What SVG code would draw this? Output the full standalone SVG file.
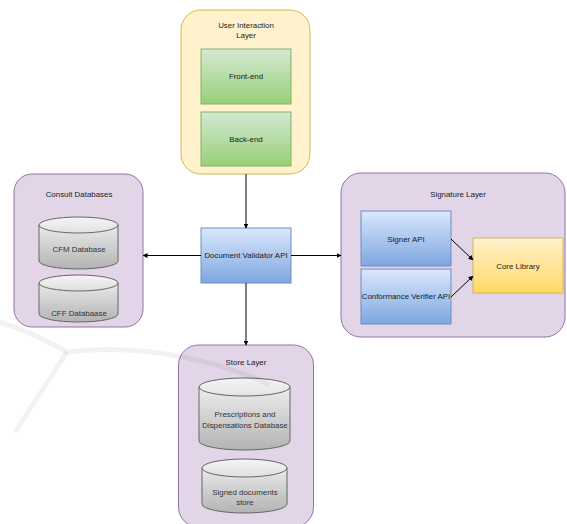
<svg xmlns="http://www.w3.org/2000/svg" width="567" height="524" viewBox="0 0 567 524">
<defs>
<linearGradient id="gGreen" x1="0" y1="0" x2="0" y2="1"><stop offset="0" stop-color="#d5e8d4"/><stop offset="1" stop-color="#97d077"/></linearGradient>
<linearGradient id="gBlue" x1="0" y1="0" x2="0" y2="1"><stop offset="0" stop-color="#dae8fc"/><stop offset="1" stop-color="#7ea6e0"/></linearGradient>
<linearGradient id="gYellow" x1="0" y1="0" x2="0" y2="1"><stop offset="0" stop-color="#fff2cc"/><stop offset="1" stop-color="#ffd966"/></linearGradient>
<linearGradient id="gGray" x1="0" y1="0" x2="0" y2="1"><stop offset="0" stop-color="#f5f5f5"/><stop offset="1" stop-color="#b3b3b3"/></linearGradient>
<marker id="arr" viewBox="0 0 10 10" refX="9" refY="5" markerWidth="5" markerHeight="5" markerUnits="userSpaceOnUse" orient="auto"><path d="M0,0 L10,5 L0,10 Z" fill="#000"/></marker>
</defs>
<style>
text{font-family:"Liberation Sans",Arial,sans-serif;font-size:7.9px;fill:#1a1a1a;text-anchor:middle;dominant-baseline:central}
.layerP{fill:#e1d5e7;stroke:#9673a6;stroke-width:1}
.layerY{fill:#fff2cc;stroke:#d6b656;stroke-width:1}
.green{fill:url(#gGreen);stroke:#82b366;stroke-width:1}
.blue{fill:url(#gBlue);stroke:#6c8ebf;stroke-width:1}
.yellow{fill:url(#gYellow);stroke:#d6b656;stroke-width:1}
.cyl{fill:url(#gGray);stroke:#666;stroke-width:1}
.cylTop{fill:none;stroke:#666;stroke-width:1}
.dbt{fill:#333}
.edge{fill:none;stroke:#000;stroke-width:1;marker-end:url(#arr)}
.wmline{fill:none;stroke:#000;stroke-opacity:0.05;stroke-width:5}
</style>
<rect width="567" height="524" fill="#fff"/>

<g id="user-interaction-layer">
<rect class="layerY" x="181" y="10" width="129" height="164" rx="20"/>
<text x="246" y="25">User Interaction</text>
<text x="246" y="35">Layer</text>
</g>
<g id="front-end">
<rect class="green" x="201" y="49" width="90" height="55"/>
<text x="246" y="76.5">Front-end</text>
</g>
<g id="back-end">
<rect class="green" x="201" y="112" width="90" height="54"/>
<text x="246" y="139">Back-end</text>
</g>

<g id="consult-databases">
<rect class="layerP" x="14" y="174" width="129" height="153" rx="18"/>
<text x="79" y="194">Consult Databases</text>
</g>
<g id="cfm-database">
<path class="cyl" d="M39,225 A39.5,8 0 0 1 118,225 L118,261 A39.5,8 0 0 1 39,261 Z"/>
<path class="cylTop" d="M39,225 A39.5,8 0 0 0 118,225"/>
<text class="dbt" x="79" y="249">CFM Database</text>
</g>
<g id="cff-database">
<path class="cyl" d="M39,283 A39.5,8 0 0 1 118,283 L118,314 A39.5,8 0 0 1 39,314 Z"/>
<path class="cylTop" d="M39,283 A39.5,8 0 0 0 118,283"/>
<text class="dbt" x="79" y="313">CFF Databaase</text>
</g>

<g id="document-validator-api">
<rect class="blue" x="201" y="228" width="90" height="55"/>
<text x="246" y="255.5">Document Validator API</text>
</g>

<g id="signature-layer">
<rect class="layerP" x="341" y="173" width="224" height="164" rx="20"/>
<text x="458" y="194">Signature Layer</text>
</g>
<g id="signer-api">
<rect class="blue" x="361" y="211" width="90" height="55"/>
<text x="406" y="239">Signer API</text>
</g>
<g id="conformance-verifier-api">
<rect class="blue" x="361" y="269" width="90" height="55"/>
<text x="406" y="296.5">Conformance Verifier API</text>
</g>
<g id="core-library">
<rect class="yellow" x="473" y="238" width="90" height="55"/>
<text x="518" y="266">Core Library</text>
</g>

<g id="store-layer">
<rect class="layerP" x="178.5" y="345" width="135" height="182" rx="20"/>
<text x="246" y="362">Store Layer</text>
</g>
<g id="prescriptions-db">
<path class="cyl" d="M199,387 A45.5,9 0 0 1 290,387 L290,441 A45.5,9 0 0 1 199,441 Z"/>
<path class="cylTop" d="M199,387 A45.5,9 0 0 0 290,387"/>
<text class="dbt" x="245" y="414">Prescriptions and</text>
<text class="dbt" x="245" y="425">Dispensations Database</text>
</g>
<g id="signed-documents-store">
<path class="cyl" d="M202,468 A42.5,9 0 0 1 287,468 L287,504 A42.5,9 0 0 1 202,504 Z"/>
<path class="cylTop" d="M202,468 A42.5,9 0 0 0 287,468"/>
<text class="dbt" x="245" y="492.5">Signed documents</text>
<text class="dbt" x="245" y="502.5">store</text>
</g>

<g id="connectors">
<path class="edge" d="M246,174 L246,228"/>
<path class="edge" d="M246,283 L246,345"/>
<path class="edge" d="M291,255.5 L341,255.5"/>
<path class="edge" d="M201,255.5 L143,255.5"/>
<path class="edge" d="M451,239 L473,260"/>
<path class="edge" d="M451,297 L473,276"/>
</g>

<g id="watermark">
<path class="wmline" d="M0,322 C25,330 50,342 67,352 C120,345 200,352 270,385"/>
<path class="wmline" d="M67,352 L15,432"/>
</g>
</svg>
